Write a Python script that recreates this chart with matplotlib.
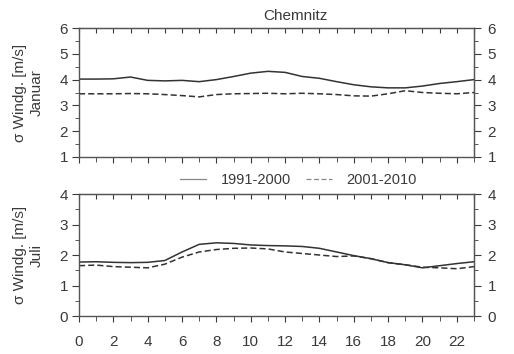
import numpy as np
import matplotlib.pyplot as plt
from matplotlib.ticker import MultipleLocator, FixedLocator

# --- データ（時刻ごとの風速の標準偏差） ---
hours = list(range(24))
jan_1991_2000 = [4.02, 4.02, 4.03, 4.10, 3.97, 3.95, 3.97, 3.92, 4.00, 4.12, 4.25, 4.32,
                 4.28, 4.12, 4.05, 3.92, 3.80, 3.72, 3.68, 3.68, 3.75, 3.85, 3.92, 4.00]
jan_2001_2010 = [3.45, 3.45, 3.45, 3.46, 3.45, 3.42, 3.38, 3.33, 3.42, 3.45, 3.46, 3.47,
                 3.45, 3.47, 3.45, 3.42, 3.37, 3.36, 3.45, 3.57, 3.50, 3.47, 3.45, 3.50]
jul_1991_2000 = [1.77, 1.78, 1.76, 1.75, 1.76, 1.82, 2.10, 2.35, 2.40, 2.38, 2.33, 2.31,
                 2.30, 2.28, 2.22, 2.10, 1.98, 1.88, 1.75, 1.68, 1.58, 1.65, 1.72, 1.78]
jul_2001_2010 = [1.65, 1.67, 1.62, 1.60, 1.58, 1.70, 1.93, 2.10, 2.18, 2.22, 2.23, 2.20,
                 2.10, 2.05, 2.00, 1.95, 1.97, 1.88, 1.75, 1.68, 1.60, 1.58, 1.55, 1.62]
labels = ['1991-2000', '2001-2010']
months = ['Januar', 'Juli']

plt.rcParams['font.family'] = ['Liberation Sans', 'DejaVu Sans']
txt = '#3a3a3a'
lc = '#333333'
dash = (0, (4, 2))

fig = plt.figure(figsize=(5.14, 3.54), dpi=100)
ax1 = fig.add_axes([0.1537, 0.5565, 0.7685, 0.3644])
ax2 = fig.add_axes([0.1537, 0.1073, 0.7685, 0.3446])


def style(ax, ylim, month, xlabels):
    ax.set_xlim(0, 23)
    ax.set_ylim(*ylim)
    ax.xaxis.set_major_locator(MultipleLocator(2))
    ax.xaxis.set_minor_locator(MultipleLocator(1))
    ax.yaxis.set_major_locator(MultipleLocator(1))
    ax.yaxis.set_minor_locator(MultipleLocator(0.5))
    ax.tick_params(axis='y', which='both', left=True, right=False, direction='out',
                   colors=txt, labelsize=11, pad=3)
    ax.tick_params(axis='y', which='major', length=4.8)
    ax.tick_params(axis='y', which='minor', length=3)
    ax.tick_params(axis='x', which='both', bottom=True, top=False, direction='out',
                   colors=txt, labelsize=11, labelbottom=xlabels, pad=9)
    ax.tick_params(axis='x', which='major', length=4.5)
    ax.tick_params(axis='x', which='minor', length=3.5)
    # 右側の目盛りとラベル（範囲内のみ）
    ry = ax.secondary_yaxis('right')
    ry.yaxis.set_major_locator(FixedLocator(np.arange(ylim[0], ylim[1] + 0.1, 1.0)))
    ry.yaxis.set_minor_locator(FixedLocator(np.arange(ylim[0], ylim[1] + 0.1, 0.5)))
    ry.tick_params(which='both', direction='out', colors=txt, labelsize=11, pad=5)
    ry.tick_params(which='major', length=4.8)
    ry.tick_params(which='minor', length=3)
    ry.spines['right'].set_color('#555555')
    # 上側は内向きの目盛り（毎時）
    sec = ax.secondary_xaxis('top')
    sec.xaxis.set_major_locator(FixedLocator(np.arange(0, 24)))
    sec.tick_params(direction='in', length=3.5, colors=txt, labeltop=False)
    sec.spines['top'].set_color('#555555')
    for s in ax.spines.values():
        s.set_color('#555555')
        s.set_linewidth(1.0)
    ax.set_ylabel('σ Windg. [m/s]\n' + month, fontsize=11, color=txt, linespacing=1.2)
    ax.yaxis.set_label_coords(-0.09, 0.5)


ax1.plot(hours, jan_1991_2000, color=lc, lw=1.1, ls='-', label=labels[0])
ax1.plot(hours, jan_2001_2010, color=lc, lw=1.1, ls=dash, label=labels[1])
style(ax1, (1, 6), months[0], False)
fig.text(0.574, 0.955, 'Chemnitz', ha='center', va='center', fontsize=11, color=txt)

ax2.plot(hours, jul_1991_2000, color=lc, lw=1.1, ls='-')
ax2.plot(hours, jul_2001_2010, color=lc, lw=1.1, ls=dash)
style(ax2, (0, 4), months[1], True)

leg = fig.legend(*ax1.get_legend_handles_labels(), loc='center', bbox_to_anchor=(0.581, 0.4915),
                 ncol=2, frameon=False, fontsize=10.5, handlelength=1.8, handletextpad=1.0,
                 columnspacing=1.0, borderpad=0)
for t in leg.get_texts():
    t.set_color(txt)
for h in leg.get_lines():
    h.set_color('#888888')
    h.set_linewidth(0.9)

fig.savefig('out.png', dpi=100)
